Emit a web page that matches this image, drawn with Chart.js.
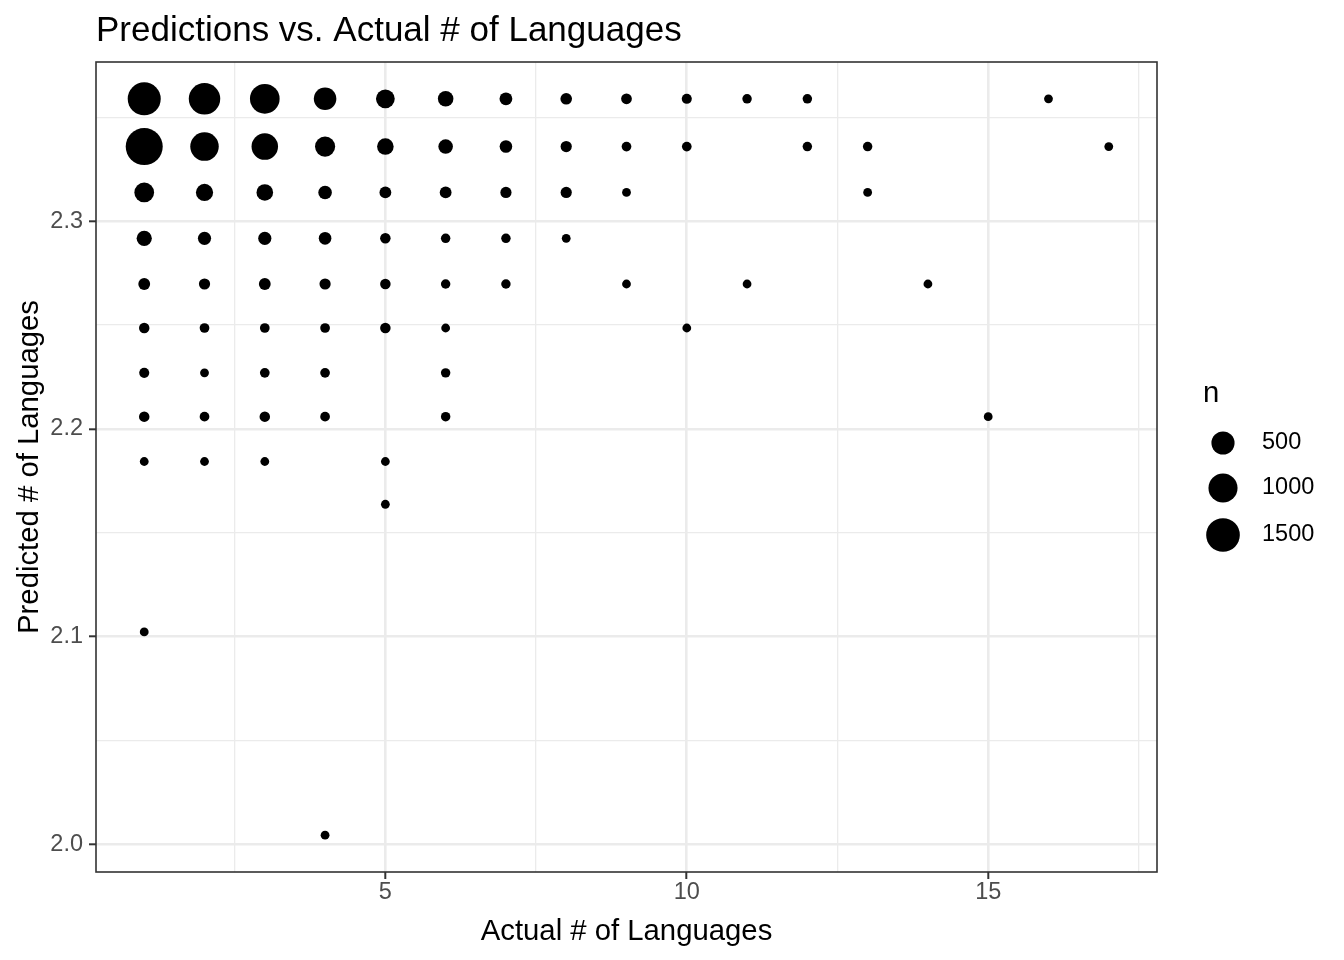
<!DOCTYPE html>
<html>
<head>
<meta charset="utf-8">
<title>Predictions vs. Actual # of Languages</title>
<script src="https://cdn.jsdelivr.net/npm/chart.js@4"></script>
<style>
  html, body { margin: 0; padding: 0; background: #fff; }
  #wrap { width: 1344px; height: 960px; }
</style>
</head>
<body>
<div id="wrap"><canvas id="myChart" width="1344" height="960"></canvas></div>
<script>
// Predicted # of languages: one row of bubbles per level
var predicted = [2.3590, 2.3360, 2.3139, 2.2918, 2.2698, 2.2486, 2.2270, 2.2059, 2.1843, 2.1637, 2.1022, 2.0043];

// Actual # of languages seen at each predicted level
var actualByRow = [
    [1, 2, 3, 4, 5, 6, 7, 8, 9, 10, 11, 12, 16],
    [1, 2, 3, 4, 5, 6, 7, 8, 9, 10, 12, 13, 17],
    [1, 2, 3, 4, 5, 6, 7, 8, 9, 13],
    [1, 2, 3, 4, 5, 6, 7, 8],
    [1, 2, 3, 4, 5, 6, 7, 9, 11, 14],
    [1, 2, 3, 4, 5, 6, 10],
    [1, 2, 3, 4, 6],
    [1, 2, 3, 4, 6, 15],
    [1, 2, 3, 5],
    [5],
    [1],
    [4]
];

// n (count) for each of those bubbles
var countByRow = [
    [1427, 1247, 1058, 459, 242, 112, 40, 20, 10, 5, 2, 2, 1],
    [1930, 941, 761, 314, 148, 82, 36, 15, 3, 3, 2, 2, 1],
    [292, 171, 148, 57, 23, 23, 15, 15, 1, 1],
    [100, 48, 48, 36, 8, 2, 2, 1],
    [23, 15, 23, 15, 8, 2, 2, 1, 1, 1],
    [8, 3, 3, 3, 8, 1, 1],
    [5, 1, 3, 3, 2],
    [8, 3, 8, 3, 2, 1],
    [1, 1, 1, 1],
    [1],
    [1],
    [1]
];

// Axis breaks
var xMajor = [5, 10, 15];
var xMinor = [2.5, 7.5, 12.5, 17.5];
var yMajor = [2.0, 2.1, 2.2, 2.3];
var yMinor = [2.05, 2.15, 2.25, 2.35];
var legendBreaks = [500, 1000, 1500];

var titleText = 'Predictions vs. Actual # of Languages';
var family = "'Liberation Sans', Arial, Helvetica, sans-serif";

// Build the point list
var points = [];
predicted.forEach(function (p, i) {
    actualByRow[i].forEach(function (a, j) {
        points.push({ x: a, y: p, n: countByRow[i][j] });
    });
});

var allN = points.map(function (d) { return d.n; });
var nMin = Math.min.apply(null, allN);
var nMax = Math.max.apply(null, allN);

// area scale like ggplot's scale_size
function radiusFor(n) {
    var t = (n - nMin) / (nMax - nMin);
    if (t < 0) t = 0;
    return 4.4 + 14.1 * Math.sqrt(t);
}

// 5% expansion on both axes
var xs = points.map(function (d) { return d.x; });
var ys = points.map(function (d) { return d.y; });
var xLo = Math.min.apply(null, xs), xHi = Math.max.apply(null, xs);
var yLo = Math.min.apply(null, ys), yHi = Math.max.apply(null, ys);
var xPad = (xHi - xLo) * 0.05, yPad = (yHi - yLo) * 0.05;

function isIn(list, v) {
    return list.some(function (m) { return Math.abs(m - v) < 1e-9; });
}

function sorted(a, b) {
    return a.concat(b).sort(function (p, q) { return p - q; });
}

// Title, panel border and size legend
var ggExtras = {
    id: 'ggExtras',
    afterDraw: function (chart) {
        var ctx = chart.ctx;
        var a = chart.chartArea;
        ctx.save();

        ctx.strokeStyle = '#333333';
        ctx.lineWidth = 1.6;
        ctx.strokeRect(a.left, a.top, a.right - a.left, a.bottom - a.top);

        ctx.fillStyle = '#000';
        ctx.font = '35px ' + family;
        ctx.textAlign = 'left';
        ctx.textBaseline = 'alphabetic';
        ctx.fillText(titleText, a.left, 41);

        // legend
        ctx.font = '29.3px ' + family;
        ctx.textBaseline = 'middle';
        ctx.fillText('n', 1203, 394);
        var keyY = [443, 488, 535];
        ctx.font = '23.5px ' + family;
        legendBreaks.forEach(function (b, i) {
            ctx.beginPath();
            ctx.arc(1223, keyY[i], radiusFor(b), 0, Math.PI * 2);
            ctx.fill();
            ctx.fillText(String(b), 1262, keyY[i]);
        });

        ctx.restore();
    }
};

var ctx = document.getElementById('myChart').getContext('2d');
var myChart = new Chart(ctx, {
    type: 'scatter',
    data: {
        datasets: [{
            label: 'n',
            data: points,
            backgroundColor: '#000',
            pointBackgroundColor: '#000',
            pointBorderWidth: 0,
            pointRadius: function (c) { return c.raw ? radiusFor(c.raw.n) : 4; },
            pointHoverRadius: function (c) { return c.raw ? radiusFor(c.raw.n) : 4; }
        }]
    },
    options: {
        responsive: false,
        animation: false,
        layout: { padding: { top: 62, right: 187, bottom: 0, left: 0 } },
        plugins: {
            legend: { display: false },
            tooltip: { enabled: false },
            title: { display: false }
        },
        scales: {
            x: {
                type: 'linear',
                min: xLo - xPad,
                max: xHi + xPad,
                afterBuildTicks: function (s) {
                    s.ticks = sorted(xMinor, xMajor).map(function (v) { return { value: v }; });
                },
                afterFit: function (s) { s.height = 88; },
                border: { display: false },
                grid: {
                    color: '#EBEBEB',
                    lineWidth: function (c) { return c.tick && isIn(xMajor, c.tick.value) ? 2.6 : 1.3; },
                    drawTicks: true,
                    tickLength: 7,
                    tickWidth: 2,
                    tickColor: function (c) { return c.tick && isIn(xMajor, c.tick.value) ? '#333333' : 'rgba(0,0,0,0)'; }
                },
                ticks: {
                    autoSkip: false,
                    maxRotation: 0,
                    padding: 2,
                    color: '#4D4D4D',
                    font: { family: family, size: 23.5, lineHeight: 1 },
                    callback: function (v) { return isIn(xMajor, v) ? String(v) : ''; }
                },
                title: {
                    display: true,
                    text: 'Actual # of Languages',
                    color: '#000',
                    font: { family: family, size: 29.3 },
                    padding: { top: 0, bottom: 10.4 }
                }
            },
            y: {
                type: 'linear',
                min: yLo - yPad,
                max: yHi + yPad,
                afterBuildTicks: function (s) {
                    s.ticks = sorted(yMinor, yMajor).map(function (v) { return { value: v }; });
                },
                afterFit: function (s) { s.width = 96; },
                border: { display: false },
                grid: {
                    color: '#EBEBEB',
                    lineWidth: function (c) { return c.tick && isIn(yMajor, c.tick.value) ? 2.6 : 1.3; },
                    drawTicks: true,
                    tickLength: 7,
                    tickWidth: 2,
                    tickColor: function (c) { return c.tick && isIn(yMajor, c.tick.value) ? '#333333' : 'rgba(0,0,0,0)'; }
                },
                ticks: {
                    autoSkip: false,
                    padding: 6,
                    color: '#4D4D4D',
                    font: { family: family, size: 23.5, lineHeight: 1 },
                    callback: function (v) { return isIn(yMajor, v) ? v.toFixed(1) : ''; }
                },
                title: {
                    display: true,
                    text: 'Predicted # of Languages',
                    color: '#000',
                    font: { family: family, size: 29.3 },
                    padding: { top: 12.4, bottom: 0 }
                }
            }
        }
    },
    plugins: [ggExtras]
});
</script>
</body>
</html>
